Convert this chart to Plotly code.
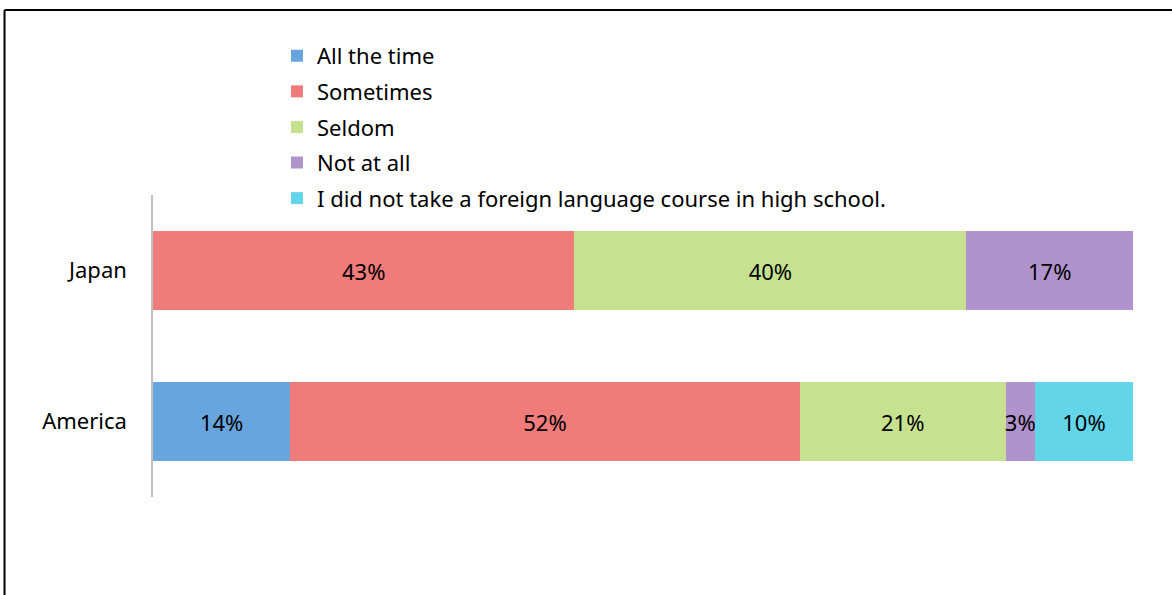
import plotly.graph_objects as go

categories = ["America", "Japan"]
series_names = ["All the time", "Sometimes", "Seldom", "Not at all",
                "I did not take a foreign language course in high school."]
america = [14, 52, 21, 3, 10]
japan = [0, 43, 40, 17, 0]
colors = ["#68a5de", "#ef7b7b", "#c6e190", "#b093cc", "#62d6e8"]

FONT = "Noto Sans"
fig = go.Figure()
for i, name in enumerate(series_names):
    vals = [america[i], japan[i]]
    texts = [f"{v}%" if v > 0 else "" for v in vals]
    fig.add_trace(go.Bar(
        y=categories, x=vals, name=name, orientation="h",
        marker=dict(color=colors[i], line=dict(width=0)),
        text=texts, textposition="inside", insidetextanchor="middle",
        textangle=0, constraintext="none",
        textfont=dict(color="black", size=22, family=FONT),
        legendgroup=f"g{i}",
    ))

fig.update_layout(
    barmode="stack", bargap=0.48,
    width=1172, height=595,
    margin=dict(l=153, r=39, t=195, b=98),
    plot_bgcolor="white", paper_bgcolor="white",
    font=dict(family=FONT, size=22, color="black"),
    showlegend=True,
    legend=dict(x=0.1265, y=1.53, xanchor="left", yanchor="top",
                traceorder="grouped", tracegroupgap=4,
                font=dict(size=22), bgcolor="rgba(0,0,0,0)"),
    xaxis=dict(range=[0, 100], visible=False, fixedrange=True),
    yaxis=dict(showline=True, linecolor="#c0c0c0", linewidth=1.5,
               ticks="", showgrid=False, zeroline=False,
               ticklabelstandoff=20, tickfont=dict(size=22)),
)
fig.add_shape(type="line", xref="paper", yref="paper", x0=-0.1515, x1=-0.1515,
              y0=-0.4, y1=1.6126, line=dict(color="black", width=2))
fig.add_shape(type="line", xref="paper", yref="paper", x0=-0.1515, x1=1.1,
              y0=1.6126, y1=1.6126, line=dict(color="black", width=2))
fig.write_html("out.html", config={"displayModeBar": False},
               post_script="document.body.style.margin='0px';")
